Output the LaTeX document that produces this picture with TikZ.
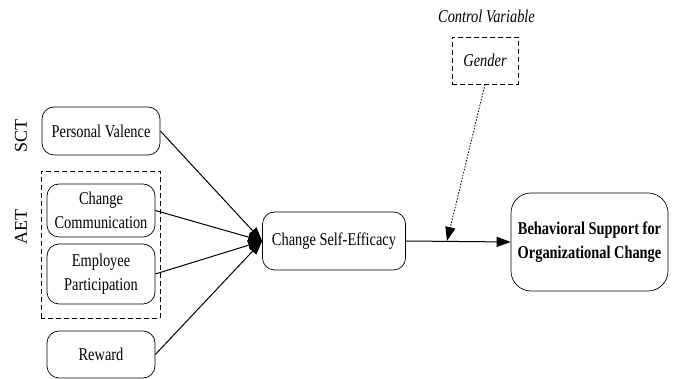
\documentclass[tikz,border=0pt]{standalone}
\usepackage{fontspec}
\setmainfont{Liberation Serif}[FakeStretch=0.8]
\newfontfamily\sidefont{Liberation Serif}
\usetikzlibrary{arrows.meta}

\newcommand{\boxsize}{\fontsize{18}{24}\selectfont}
\tikzstyle{factor} = [draw, rounded corners=12pt, line width=0.7pt, align=center, inner sep=0pt, font=\boxsize]
\tikzstyle{outcome} = [draw, rounded corners=20pt, line width=0.7pt, align=center, inner sep=0pt, font=\boxsize\bfseries]
\tikzstyle{control} = [draw, dashed, dash pattern=on 5pt off 3pt, line width=0.7pt, inner sep=0pt, font=\boxsize\itshape]
\tikzstyle{path} = [line width=1pt, -{Triangle[length=14pt,width=10pt]}]

\begin{document}
\begin{tikzpicture}[x=1pt,y=1pt]
			\useasboundingbox (0,0) rectangle (676,379);
			\node[factor, minimum width=118pt, minimum height=48pt] (pv) at (101,248) {Personal Valence};
			\node[factor, minimum width=108pt, minimum height=53pt] (cc) at (101,168.5) {Change\\Communication};
			\node[factor, minimum width=108pt, minimum height=60pt] (ep) at (101,105) {Employee\\Participation};
			\node[factor, minimum width=108pt, minimum height=47pt] (rw) at (101,24.5) {Reward};
			\draw[dashed, dash pattern=on 5pt off 3pt, line width=0.7pt] (41,61) rectangle (160,208);
			\node[rotate=90, font=\sidefont\fontsize{18}{20}\selectfont] (sct) at (21,243) {SCT};
			\node[rotate=90, font=\sidefont\fontsize{18}{20}\selectfont] (aet) at (21,152) {AET};
			\node[factor, minimum width=143pt, minimum height=58pt] (se) at (334,138) {Change Self-Efficacy};
			\node[outcome, minimum width=157pt, minimum height=98pt] (bs) at (589.5,137) {Behavioral Support for\\Organizational Change};
			\node[control, minimum width=66pt, minimum height=47pt] (gd) at (485,318.5) {Gender};
			\node[font=\boxsize\itshape] (cv) at (486.5,363) {Control Variable};
			\coordinate (m) at (447,138);
			\draw[path] (pv.east) -- (se.west);
			\draw[path] (cc.east) -- (se.west);
			\draw[path] (ep.east) -- (se.west);
			\draw[path] (rw.east) -- (se.west);
			\draw[path] (se.east) -- (bs.west);
			\draw[line width=0.8pt, dash pattern=on 1.5pt off 1.5pt, -{Triangle[length=14pt,width=10pt]}] (gd.south) -- (m);
		\end{tikzpicture}
\end{document}
